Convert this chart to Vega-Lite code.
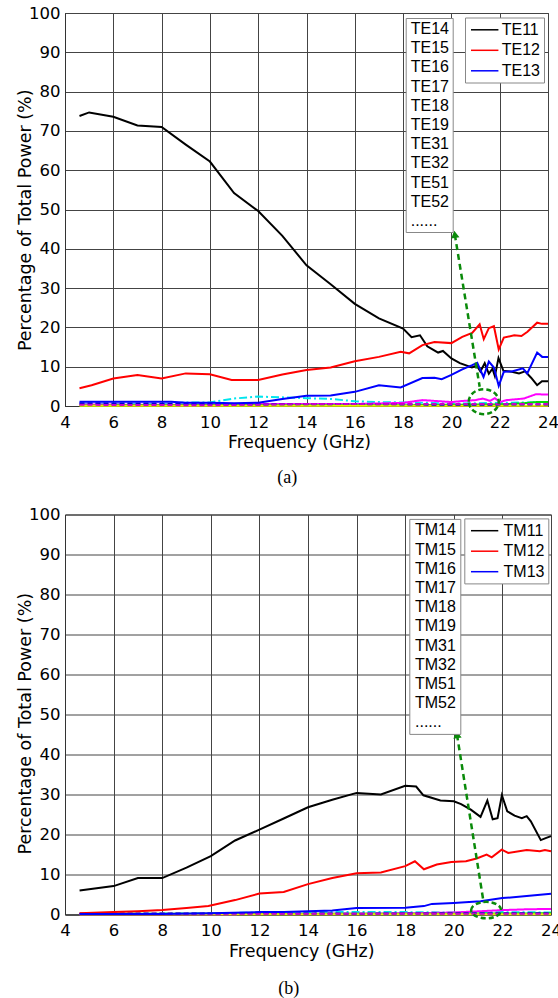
{
  "$schema": "https://vega.github.io/schema/vega-lite/v6.json",
  "padding": {"left": 15, "top": 4, "right": 5, "bottom": 5},
  "spacing": 17.5,
  "background": "white",
  "config": {
    "font": "DejaVu Sans",
    "view": {"stroke": "#333", "strokeWidth": 1},
    "axis": {"grid": true, "gridColor": "#444", "gridOpacity": 1, "gridWidth": 1, "domainColor": "#333", "ticks": false, "tickSize": 0, "labelFont": "DejaVu Sans", "labelFontSize": 16.5, "labelColor": "#000", "titleFont": "DejaVu Sans", "titleFontSize": 17.3, "titleFontWeight": "normal", "titleColor": "#000", "labelFlush": false, "labelOverlap": false},
    "legend": {"labelFont": "Liberation Sans", "labelFontSize": 16, "labelColor": "#000", "strokeColor": "#888", "fillColor": "#fff", "orient": "none", "title": null},
    "title": {"font": "Liberation Serif", "fontSize": 18, "fontWeight": "normal", "orient": "bottom", "frame": "bounds", "color": "#000"}
  },
  "resolve": {
    "scale": {"color": "independent", "stroke": "independent", "strokeDash": "independent"},
    "legend": {"color": "independent", "stroke": "independent"}
  },
  "datasets": {
    "te_main": [
      {"mode":"TE11","f":4.6,"v":73.8},{"mode":"TE11","f":5.0,"v":74.7},{"mode":"TE11","f":6.0,"v":73.6},{"mode":"TE11","f":7.0,"v":71.4},{"mode":"TE11","f":8.0,"v":71.0},{"mode":"TE11","f":9.0,"v":66.5},{"mode":"TE11","f":10.0,"v":62.2},{"mode":"TE11","f":11.0,"v":54.2},{"mode":"TE11","f":12.0,"v":49.6},{"mode":"TE11","f":13.0,"v":43.3},{"mode":"TE11","f":14.0,"v":35.8},{"mode":"TE11","f":15.0,"v":31.0},{"mode":"TE11","f":16.0,"v":26.0},{"mode":"TE11","f":17.0,"v":22.3},{"mode":"TE11","f":18.0,"v":19.7},{"mode":"TE11","f":18.35,"v":17.5},{"mode":"TE11","f":18.7,"v":18.0},{"mode":"TE11","f":19.0,"v":15.2},{"mode":"TE11","f":19.2,"v":14.5},{"mode":"TE11","f":19.45,"v":13.6},{"mode":"TE11","f":19.65,"v":14.0},{"mode":"TE11","f":20.0,"v":12.1},{"mode":"TE11","f":20.35,"v":10.9},{"mode":"TE11","f":20.85,"v":9.8},{"mode":"TE11","f":21.05,"v":10.3},{"mode":"TE11","f":21.2,"v":8.8},{"mode":"TE11","f":21.38,"v":10.9},{"mode":"TE11","f":21.55,"v":8.2},{"mode":"TE11","f":21.7,"v":9.5},{"mode":"TE11","f":21.8,"v":7.6},{"mode":"TE11","f":21.95,"v":12.2},{"mode":"TE11","f":22.15,"v":9.0},{"mode":"TE11","f":22.5,"v":8.7},{"mode":"TE11","f":22.8,"v":8.3},{"mode":"TE11","f":23.05,"v":8.8},{"mode":"TE11","f":23.3,"v":7.2},{"mode":"TE11","f":23.55,"v":5.3},{"mode":"TE11","f":23.75,"v":6.3},{"mode":"TE11","f":24.0,"v":6.3},
      {"mode":"TE12","f":4.6,"v":4.5},{"mode":"TE12","f":5.1,"v":5.3},{"mode":"TE12","f":6.0,"v":7.0},{"mode":"TE12","f":7.0,"v":7.9},{"mode":"TE12","f":8.0,"v":7.0},{"mode":"TE12","f":9.0,"v":8.3},{"mode":"TE12","f":10.0,"v":8.05},{"mode":"TE12","f":10.9,"v":6.6},{"mode":"TE12","f":12.0,"v":6.6},{"mode":"TE12","f":13.0,"v":8.0},{"mode":"TE12","f":14.0,"v":9.15},{"mode":"TE12","f":15.0,"v":9.8},{"mode":"TE12","f":16.0,"v":11.4},{"mode":"TE12","f":17.0,"v":12.5},{"mode":"TE12","f":17.9,"v":13.8},{"mode":"TE12","f":18.25,"v":13.4},{"mode":"TE12","f":18.8,"v":15.5},{"mode":"TE12","f":19.3,"v":16.3},{"mode":"TE12","f":20.0,"v":16.0},{"mode":"TE12","f":20.45,"v":17.6},{"mode":"TE12","f":20.86,"v":18.6},{"mode":"TE12","f":21.17,"v":20.8},{"mode":"TE12","f":21.34,"v":17.0},{"mode":"TE12","f":21.55,"v":19.8},{"mode":"TE12","f":21.76,"v":20.3},{"mode":"TE12","f":21.96,"v":14.4},{"mode":"TE12","f":22.17,"v":17.4},{"mode":"TE12","f":22.6,"v":18.0},{"mode":"TE12","f":22.9,"v":17.8},{"mode":"TE12","f":23.15,"v":18.9},{"mode":"TE12","f":23.55,"v":21.2},{"mode":"TE12","f":23.75,"v":20.9},{"mode":"TE12","f":24.0,"v":20.9},
      {"mode":"TE13","f":4.6,"v":1.1},{"mode":"TE13","f":6.0,"v":1.1},{"mode":"TE13","f":7.0,"v":1.1},{"mode":"TE13","f":8.4,"v":1.1},{"mode":"TE13","f":9.0,"v":0.8},{"mode":"TE13","f":10.0,"v":0.8},{"mode":"TE13","f":11.0,"v":0.7},{"mode":"TE13","f":12.0,"v":0.85},{"mode":"TE13","f":13.0,"v":1.8},{"mode":"TE13","f":14.0,"v":2.6},{"mode":"TE13","f":15.0,"v":2.7},{"mode":"TE13","f":16.0,"v":3.6},{"mode":"TE13","f":17.0,"v":5.3},{"mode":"TE13","f":17.9,"v":4.7},{"mode":"TE13","f":18.8,"v":7.1},{"mode":"TE13","f":19.3,"v":7.2},{"mode":"TE13","f":19.6,"v":6.8},{"mode":"TE13","f":20.0,"v":7.9},{"mode":"TE13","f":20.45,"v":9.3},{"mode":"TE13","f":20.86,"v":10.4},{"mode":"TE13","f":21.07,"v":11.0},{"mode":"TE13","f":21.33,"v":7.4},{"mode":"TE13","f":21.55,"v":11.3},{"mode":"TE13","f":21.76,"v":9.8},{"mode":"TE13","f":21.96,"v":5.1},{"mode":"TE13","f":22.17,"v":8.7},{"mode":"TE13","f":22.5,"v":8.8},{"mode":"TE13","f":22.96,"v":9.6},{"mode":"TE13","f":23.14,"v":8.3},{"mode":"TE13","f":23.55,"v":13.6},{"mode":"TE13","f":23.76,"v":12.5},{"mode":"TE13","f":24.0,"v":12.5}
    ],
    "te_minor": [
      {"mode":"TE14","f":4.6,"v":0.6},{"mode":"TE14","f":6,"v":0.6},{"mode":"TE14","f":8,"v":0.5},{"mode":"TE14","f":9,"v":0.9},{"mode":"TE14","f":10,"v":0.9},{"mode":"TE14","f":11,"v":1.9},{"mode":"TE14","f":12,"v":2.4},{"mode":"TE14","f":13,"v":2.2},{"mode":"TE14","f":14,"v":2.0},{"mode":"TE14","f":15,"v":1.8},{"mode":"TE14","f":16,"v":1.2},{"mode":"TE14","f":17,"v":1.0},{"mode":"TE14","f":18,"v":0.9},{"mode":"TE14","f":19,"v":0.8},{"mode":"TE14","f":20,"v":0.6},{"mode":"TE14","f":21,"v":0.7},{"mode":"TE14","f":22,"v":0.8},{"mode":"TE14","f":23,"v":0.9},{"mode":"TE14","f":24,"v":1.0},
      {"mode":"TE15","f":4.6,"v":0.4},{"mode":"TE15","f":8,"v":0.3},{"mode":"TE15","f":12,"v":0.5},{"mode":"TE15","f":16,"v":0.5},{"mode":"TE15","f":18,"v":0.8},{"mode":"TE15","f":18.8,"v":1.5},{"mode":"TE15","f":19.3,"v":1.3},{"mode":"TE15","f":20,"v":1.0},{"mode":"TE15","f":20.5,"v":1.3},{"mode":"TE15","f":21,"v":1.5},{"mode":"TE15","f":21.3,"v":1.9},{"mode":"TE15","f":21.6,"v":1.3},{"mode":"TE15","f":21.8,"v":2.0},{"mode":"TE15","f":22.0,"v":1.0},{"mode":"TE15","f":22.3,"v":1.5},{"mode":"TE15","f":23,"v":1.9},{"mode":"TE15","f":23.5,"v":3.0},{"mode":"TE15","f":24,"v":2.9},
      {"mode":"TE16","f":4.6,"v":0.15},{"mode":"TE16","f":12,"v":0.2},{"mode":"TE16","f":18,"v":0.2},{"mode":"TE16","f":20,"v":0.3},{"mode":"TE16","f":22,"v":0.4},{"mode":"TE16","f":23,"v":0.7},{"mode":"TE16","f":23.5,"v":1.0},{"mode":"TE16","f":24,"v":1.0},
      {"mode":"TE17","f":4.6,"v":0.05},{"mode":"TE17","f":24,"v":0.05},
      {"mode":"TE18","f":4.6,"v":0.7},{"mode":"TE18","f":8,"v":0.6},{"mode":"TE18","f":12,"v":0.4},{"mode":"TE18","f":16,"v":0.5},{"mode":"TE18","f":20,"v":0.3},{"mode":"TE18","f":24,"v":0.4},
      {"mode":"TE19","f":4.6,"v":0.3},{"mode":"TE19","f":10,"v":0.2},{"mode":"TE19","f":14,"v":0.5},{"mode":"TE19","f":20,"v":0.5},{"mode":"TE19","f":24,"v":0.5}
    ],
    "te_arrow": [{"f":20.14,"v":43.7,"f2":21.17,"v2":4.9}],
    "te_ellipse": [{"f":21.34,"v":1.1}],
    "tm_main": [
      {"mode":"TM11","f":4.6,"v":6.0},{"mode":"TM11","f":6.0,"v":7.1},{"mode":"TM11","f":7.0,"v":9.1},{"mode":"TM11","f":8.0,"v":9.1},{"mode":"TM11","f":9.0,"v":11.7},{"mode":"TM11","f":10.0,"v":14.6},{"mode":"TM11","f":11.0,"v":18.5},{"mode":"TM11","f":12.0,"v":21.2},{"mode":"TM11","f":13.0,"v":24.0},{"mode":"TM11","f":14.0,"v":26.8},{"mode":"TM11","f":15.0,"v":28.7},{"mode":"TM11","f":16.0,"v":30.4},{"mode":"TM11","f":17.0,"v":30.0},{"mode":"TM11","f":18.0,"v":32.2},{"mode":"TM11","f":18.45,"v":32.0},{"mode":"TM11","f":18.75,"v":29.8},{"mode":"TM11","f":19.45,"v":28.5},{"mode":"TM11","f":20.0,"v":28.3},{"mode":"TM11","f":20.3,"v":27.6},{"mode":"TM11","f":20.7,"v":26.2},{"mode":"TM11","f":21.1,"v":24.4},{"mode":"TM11","f":21.38,"v":28.5},{"mode":"TM11","f":21.6,"v":23.8},{"mode":"TM11","f":21.8,"v":24.1},{"mode":"TM11","f":21.98,"v":29.8},{"mode":"TM11","f":22.2,"v":25.8},{"mode":"TM11","f":22.5,"v":24.7},{"mode":"TM11","f":22.8,"v":24.1},{"mode":"TM11","f":23.0,"v":24.6},{"mode":"TM11","f":23.17,"v":23.3},{"mode":"TM11","f":23.58,"v":18.6},{"mode":"TM11","f":23.78,"v":19.1},{"mode":"TM11","f":24.0,"v":19.6},
      {"mode":"TM12","f":4.6,"v":0.3},{"mode":"TM12","f":6.0,"v":0.6},{"mode":"TM12","f":7.0,"v":0.8},{"mode":"TM12","f":8.0,"v":1.1},{"mode":"TM12","f":9.0,"v":1.6},{"mode":"TM12","f":9.9,"v":2.1},{"mode":"TM12","f":11.0,"v":3.6},{"mode":"TM12","f":12.0,"v":5.25},{"mode":"TM12","f":13.0,"v":5.65},{"mode":"TM12","f":14.0,"v":7.6},{"mode":"TM12","f":15.0,"v":9.1},{"mode":"TM12","f":16.0,"v":10.3},{"mode":"TM12","f":17.0,"v":10.5},{"mode":"TM12","f":18.0,"v":12.1},{"mode":"TM12","f":18.4,"v":13.3},{"mode":"TM12","f":18.77,"v":11.3},{"mode":"TM12","f":19.3,"v":12.5},{"mode":"TM12","f":19.9,"v":13.1},{"mode":"TM12","f":20.5,"v":13.3},{"mode":"TM12","f":20.94,"v":14.0},{"mode":"TM12","f":21.35,"v":15.0},{"mode":"TM12","f":21.56,"v":14.3},{"mode":"TM12","f":21.97,"v":16.2},{"mode":"TM12","f":22.24,"v":15.4},{"mode":"TM12","f":23.0,"v":16.1},{"mode":"TM12","f":23.54,"v":15.8},{"mode":"TM12","f":23.75,"v":16.1},{"mode":"TM12","f":24.0,"v":15.8},
      {"mode":"TM13","f":4.6,"v":0.1},{"mode":"TM13","f":8,"v":0.1},{"mode":"TM13","f":10,"v":0.3},{"mode":"TM13","f":12,"v":0.6},{"mode":"TM13","f":13,"v":0.6},{"mode":"TM13","f":15,"v":1.0},{"mode":"TM13","f":16,"v":1.6},{"mode":"TM13","f":18,"v":1.7},{"mode":"TM13","f":18.77,"v":2.1},{"mode":"TM13","f":19.1,"v":2.65},{"mode":"TM13","f":20,"v":2.9},{"mode":"TM13","f":21.1,"v":3.3},{"mode":"TM13","f":22.0,"v":4.1},{"mode":"TM13","f":23.0,"v":4.6},{"mode":"TM13","f":24.0,"v":5.2}
    ],
    "tm_minor": [
      {"mode":"TM14","f":4.6,"v":0.1},{"mode":"TM14","f":10,"v":0.3},{"mode":"TM14","f":12,"v":0.5},{"mode":"TM14","f":14,"v":0.6},{"mode":"TM14","f":16,"v":0.6},{"mode":"TM14","f":18,"v":0.6},{"mode":"TM14","f":20,"v":0.5},{"mode":"TM14","f":22,"v":0.6},{"mode":"TM14","f":24,"v":0.5},
      {"mode":"TM15","f":4.6,"v":0.05},{"mode":"TM15","f":12,"v":0.1},{"mode":"TM15","f":16,"v":0.2},{"mode":"TM15","f":18,"v":0.3},{"mode":"TM15","f":20,"v":0.5},{"mode":"TM15","f":21,"v":0.8},{"mode":"TM15","f":22,"v":1.1},{"mode":"TM15","f":23,"v":1.3},{"mode":"TM15","f":24,"v":1.4},
      {"mode":"TM16","f":4.6,"v":0.2},{"mode":"TM16","f":20,"v":0.2},{"mode":"TM16","f":24,"v":0.3},
      {"mode":"TM17","f":4.6,"v":0.05},{"mode":"TM17","f":24,"v":0.05},
      {"mode":"TM18","f":4.6,"v":0.2},{"mode":"TM18","f":12,"v":0.3},{"mode":"TM18","f":16,"v":0.2},{"mode":"TM18","f":20,"v":0.3},{"mode":"TM18","f":24,"v":0.3},
      {"mode":"TM19","f":4.6,"v":0.2},{"mode":"TM19","f":24,"v":0.2}
    ],
    "tm_arrow": [{"f":20.13,"v":45.0,"f2":21.23,"v2":2.9}],
    "tm_ellipse": [{"f":21.33,"v":1.1}]
  },
  "vconcat": [
    {
      "width": 483,
      "height": 393,
      "title": {"text": "(a)", "offset": 18.5},
      "encoding": {
        "x": {"field": "f", "type": "quantitative", "scale": {"domain": [4, 24], "nice": false, "zero": false}, "axis": {"values": [4,6,8,10,12,14,16,18,20,22,24], "title": "Frequency (GHz)", "labelPadding": 8, "titleFontSize": 17.2, "titleX": 234, "titleY": 27.4}},
        "y": {"field": "v", "type": "quantitative", "scale": {"domain": [0, 100], "nice": false}, "axis": {"values": [0,10,20,30,40,50,60,70,80,90,100], "title": "Percentage of Total Power (%)", "labelPadding": 5, "titleFontSize": 17.5, "titleX": -31, "titleY": 206.8}}
      },
      "layer": [
        {
          "data": {"name": "te_minor"},
          "mark": {"type": "line", "strokeWidth": 2},
          "encoding": {
            "stroke": {"field": "mode", "type": "nominal", "scale": {"domain": ["TE14","TE15","TE16","TE17","TE18","TE19","TE31","TE32","TE51","TE52","......"], "range": ["#00e5ee","#ff00ff","#00dd00","#eeee00","#0000cc","#cc00cc","#888888","#888888","#888888","#888888","#888888"]},
              "legend": {"orient": "none", "legendX": 340.7, "legendY": 5, "symbolType": "circle", "symbolSize": 4, "symbolOpacity": 0, "symbolStrokeWidth": 0, "labelOffset": -14, "padding": 3, "rowPadding": 3.2, "labelExpr": "datum.label + '\u2002'", "title": null}},
            "strokeDash": {"field": "mode", "type": "nominal", "scale": {"domain": ["TE14","TE15","TE16","TE17","TE18","TE19"], "range": [[8,3,2,3],[1,0],[1,0],[1,0],[5,3],[5,3]]}, "legend": null}
          }
        },
        {
          "data": {"name": "te_main"},
          "mark": {"type": "line", "strokeWidth": 2},
          "encoding": {
            "color": {"field": "mode", "type": "nominal", "scale": {"domain": ["TE11","TE12","TE13"], "range": ["#000000","#ff0000","#0000ff"]},
              "legend": {"orient": "none", "legendX": 400, "legendY": 4.5, "symbolType": "M-0.79,0L2.64,0", "symbolSize": 256, "symbolStrokeWidth": 1.5, "labelOffset": 15.4, "padding": 3.3, "rowPadding": 3.5, "title": null}}
          }
        },
        {
          "data": {"name": "te_arrow"},
          "mark": {"type": "rule", "color": "#0a8a0a", "strokeWidth": 2.5, "strokeDash": [6, 4]},
          "encoding": {"x2": {"field": "f2"}, "y2": {"field": "v2"}}
        },
        {
          "data": {"name": "te_arrow"},
          "mark": {"type": "point", "shape": "triangle-up", "filled": true, "color": "#0a8a0a", "opacity": 1, "size": 70, "angle": -9},
          "encoding": {}
        },
        {
          "data": {"name": "te_ellipse"},
          "mark": {"type": "point", "shape": "M-1,0A1,0.83,0,1,1,1,0A1,0.83,0,1,1,-1,0Z", "filled": false, "color": "#0a8a0a", "opacity": 1, "strokeWidth": 2.5, "strokeDash": [5, 3], "size": 900},
          "encoding": {}
        }
      ]
    },
    {
      "width": 486,
      "height": 400,
      "title": {"text": "(b)", "offset": 20},
      "encoding": {
        "x": {"field": "f", "type": "quantitative", "scale": {"domain": [4, 24], "nice": false, "zero": false}, "axis": {"values": [4,6,8,10,12,14,16,18,20,22,24], "title": "Frequency (GHz)", "labelPadding": 8, "titleFontSize": 17.5, "titleX": 236.3, "titleY": 28}},
        "y": {"field": "v", "type": "quantitative", "scale": {"domain": [0, 100], "nice": false}, "axis": {"values": [0,10,20,30,40,50,60,70,80,90,100], "title": "Percentage of Total Power (%)", "labelPadding": 5, "titleFontSize": 17.5, "titleX": -31, "titleY": 208.7}}
      },
      "layer": [
        {
          "data": {"name": "tm_minor"},
          "mark": {"type": "line", "strokeWidth": 2},
          "encoding": {
            "stroke": {"field": "mode", "type": "nominal", "scale": {"domain": ["TM14","TM15","TM16","TM17","TM18","TM19","TM31","TM32","TM51","TM52","......"], "range": ["#00e5ee","#ff00ff","#00dd00","#eeee00","#0000cc","#cc00cc","#888888","#888888","#888888","#888888","#888888"]},
              "legend": {"orient": "none", "legendX": 344.3, "legendY": 4.4, "symbolType": "circle", "symbolSize": 4, "symbolOpacity": 0, "symbolStrokeWidth": 0, "labelOffset": -13.8, "padding": 3.5, "rowPadding": 3.2, "title": null}},
            "strokeDash": {"field": "mode", "type": "nominal", "scale": {"domain": ["TM14","TM15","TM16","TM17","TM18","TM19"], "range": [[8,3,2,3],[1,0],[1,0],[1,0],[5,3],[5,3]]}, "legend": null}
          }
        },
        {
          "data": {"name": "tm_main"},
          "mark": {"type": "line", "strokeWidth": 2},
          "encoding": {
            "color": {"field": "mode", "type": "nominal", "scale": {"domain": ["TM11","TM12","TM13"], "range": ["#000000","#ff0000","#0000ff"]},
              "legend": {"orient": "none", "legendX": 399.3, "legendY": 3.9, "symbolType": "M-0.7,0L2.71,0", "symbolSize": 256, "symbolStrokeWidth": 1.5, "labelOffset": 18, "padding": 3.3, "rowPadding": 3.5, "title": null}}
          }
        },
        {
          "data": {"name": "tm_arrow"},
          "mark": {"type": "rule", "color": "#0a8a0a", "strokeWidth": 2.5, "strokeDash": [6, 4]},
          "encoding": {"x2": {"field": "f2"}, "y2": {"field": "v2"}}
        },
        {
          "data": {"name": "tm_arrow"},
          "mark": {"type": "point", "shape": "triangle-up", "filled": true, "color": "#0a8a0a", "opacity": 1, "size": 70, "angle": -9},
          "encoding": {}
        },
        {
          "data": {"name": "tm_ellipse"},
          "mark": {"type": "point", "shape": "M-1,0A1,0.55,0,1,1,1,0A1,0.55,0,1,1,-1,0Z", "filled": false, "color": "#0a8a0a", "opacity": 1, "strokeWidth": 2.5, "strokeDash": [5, 3], "size": 900},
          "encoding": {}
        }
      ]
    }
  ]
}
